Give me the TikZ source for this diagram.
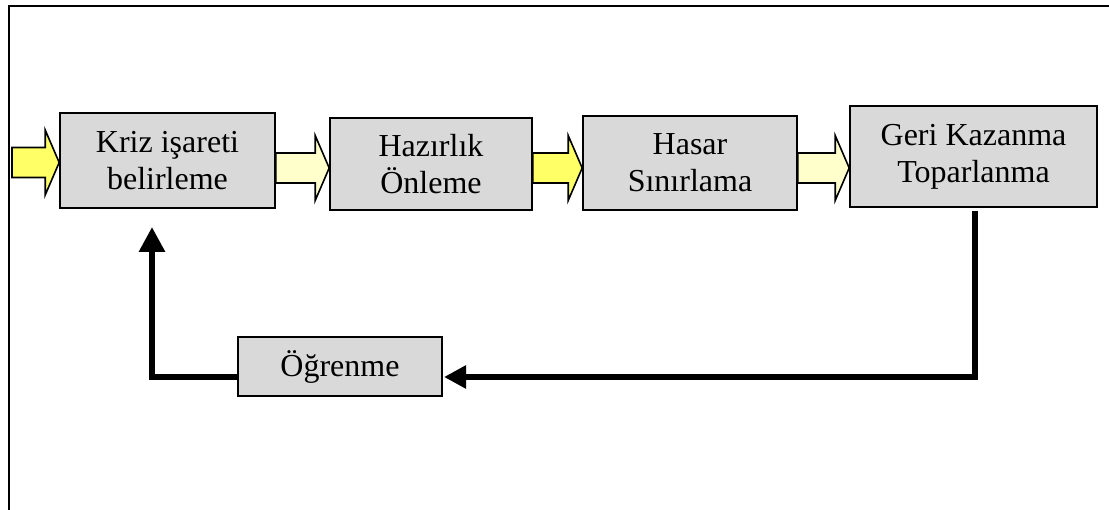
\documentclass[tikz,border=0pt]{standalone}
\usepackage{fontspec}
\setmainfont{Liberation Serif}
\usetikzlibrary{arrows.meta,calc}

\definecolor{boxgray}{HTML}{D9D9D9}
\definecolor{flowyellow}{HTML}{FFFF66}
\definecolor{flowpale}{HTML}{FFFFCC}

\tikzset{
  stage/.style={draw=black, line width=1.6pt, fill=boxgray, align=center,
    font=\fontsize{32}{37}\selectfont, inner sep=0pt},
  flow/.style={draw=black, line width=1.6pt, line join=miter},
  fb/.style={line width=6pt, black, line join=miter},
  fbshadow/.style={line width=6pt, black!30, line join=miter},
  frame/.style={line width=2.6pt, black},
}

% block arrow from the x of #1 to the tip at the x of #2, on the horizontal line through #1
\newcommand\blockflow[3]{%
  \draw[flow, fill=#3] let \p1=(#1), \p2=(#2) in
    (\x1,\y1+15) -- (\x2-14,\y1+15) -- (\x2-14,\y1+32.5) -- (\x2,\y1)
    -- (\x2-14,\y1-32.5) -- (\x2-14,\y1-15) -- (\x1,\y1-15) -- cycle;}

\begin{document}
\begin{tikzpicture}[x=1pt,y=-1pt]
\useasboundingbox (0,0) rectangle (1109,510);

% outer frame (only its top and left edges lie inside the page)
\coordinate (fa) at (9,512);
\coordinate (fc) at (9,6);
\coordinate (fd) at (1112,6);
\draw[frame] (fa) -- (fc) -- (fd);

% stages
\node[stage, minimum width=215pt, minimum height=95pt]  (b1) at (167.5,160.5) {Kriz işareti\\belirleme};
\node[stage, minimum width=202pt, minimum height=92pt]  (b2) at (431,164)     {Hazırlık\\Önleme};
\node[stage, minimum width=214pt, minimum height=94pt]  (b3) at (690,163)     {Hasar\\Sınırlama};
\node[stage, minimum width=247pt, minimum height=101pt] (b4) at (973.5,156.5) {Geri Kazanma\\Toparlanma};
\node[stage, minimum width=204pt, minimum height=59pt]  (b5) at (340,366.5)   {Öğrenme};

% block arrows between the stages
\coordinate (in) at (12,162.5);
\coordinate (axis) at (0,168);
\blockflow{in}{b1.west |- in}{flowyellow}
\blockflow{b1.east |- axis}{b2.west |- axis}{flowpale}
\blockflow{b2.east |- axis}{b3.west |- axis}{flowyellow}
\blockflow{b3.east |- axis}{b4.west |- axis}{flowpale}

% feedback loop
\coordinate (rtop) at (975,211);
\coordinate (rbot) at (975,377);
\coordinate (lend) at (444,377);
\coordinate (lstart) at (238,377);
\coordinate (lcorner) at (152,377);
\coordinate (ltip) at (152,227);

\begin{scope}[shift={(2,3)}]
  \draw[fbshadow] (rtop) -- (rbot) -- ([xshift=20pt]lend);
  \draw[fbshadow] (lstart) -- (lcorner) -- ([yshift=-24pt]ltip);
\end{scope}
\draw[fb, -{Triangle[length=22pt,width=22pt]}] (rtop) -- (rbot) -- (lend);
\draw[fb, -{Triangle[length=25pt,width=25pt]}] (lstart) -- (lcorner) -- (ltip);
\end{tikzpicture}
\end{document}
